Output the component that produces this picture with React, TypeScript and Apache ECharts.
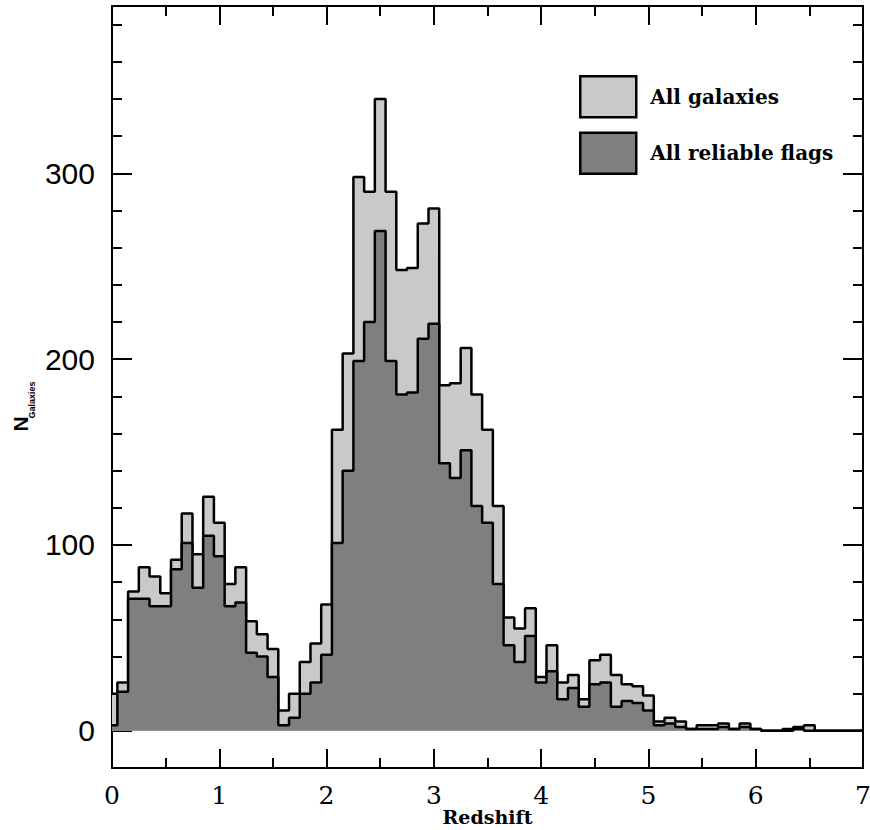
import React, { useEffect, useRef } from "react";
import * as echarts from "echarts";

// Bin centres (redshift), bin width 0.1
const redshift = [
  0.0, 0.1, 0.2, 0.3, 0.4, 0.5, 0.6, 0.7, 0.8, 0.9,
  1.0, 1.1, 1.2, 1.3, 1.4, 1.5, 1.6, 1.7, 1.8, 1.9,
  2.0, 2.1, 2.2, 2.3, 2.4, 2.5, 2.6, 2.7, 2.8, 2.9,
  3.0, 3.1, 3.2, 3.3, 3.4, 3.5, 3.6, 3.7, 3.8, 3.9,
  4.0, 4.1, 4.2, 4.3, 4.4, 4.5, 4.6, 4.7, 4.8, 4.9,
  5.0, 5.1, 5.2, 5.3, 5.4, 5.5, 5.6, 5.7, 5.8, 5.9,
  6.0, 6.1, 6.2, 6.3, 6.4, 6.5, 6.6, 6.7, 6.8, 6.9,
  7.0,
];

const allGalaxies = [
  20, 26, 75, 88, 83, 74, 92, 117, 95, 126,
  112, 79, 88, 59, 52, 44, 11, 20, 37, 47,
  68, 162, 203, 298, 290, 340, 290, 248, 249, 273,
  281, 186, 187, 206, 181, 162, 121, 61, 55, 66,
  29, 46, 26, 30, 17, 38, 41, 30, 25, 24,
  19, 5, 7, 5, 1, 3, 3, 4, 1, 4,
  1, 0, 0, 1, 2, 3, 0, 0, 0, 0,
  0,
];

const reliableFlags = [
  3, 21, 71, 71, 67, 67, 87, 101, 77, 105,
  94, 67, 69, 42, 40, 29, 3, 7, 20, 26,
  41, 101, 140, 199, 220, 269, 199, 181, 182, 211,
  219, 144, 136, 151, 121, 112, 79, 46, 37, 51,
  26, 32, 17, 23, 13, 25, 26, 13, 16, 15,
  11, 3, 4, 2, 1, 1, 1, 2, 1, 2,
  1, 0, 0, 0, 1, 0, 0, 0, 0, 0,
  0,
];

const yMajorTicks = [0, 100, 200, 300];
const yMinorTicks = [0, 20, 40, 60, 80, 100, 120, 140, 160, 180, 200, 220, 240, 260, 280, 300, 320, 340, 360, 380];

const LIGHT = "#c9c9c9";
const DARK = "#7f7f7f";

export default function App() {
  const ref = useRef<HTMLDivElement>(null);

  useEffect(() => {
    document.body.style.margin = "0";
    if (!ref.current) return;
    const chart = echarts.init(ref.current, undefined, { renderer: "svg" });

    const xBase = {
      type: "value" as const,
      min: 0,
      max: 7,
      interval: 1,
      axisLine: { show: true, onZero: false, lineStyle: { color: "#000", width: 2 } },
      axisTick: { show: true, inside: true, length: 19, lineStyle: { color: "#000", width: 2 } },
      minorTick: { show: true, splitNumber: 2, length: 10, lineStyle: { color: "#000", width: 2 } },
      splitLine: { show: false },
      minorSplitLine: { show: false },
    };

    const yMinor = (position: "left" | "right", labels: boolean) => ({
      type: "value" as const,
      position,
      min: -20,
      max: 390,
      axisLine: { show: true, onZero: false, lineStyle: { color: "#000", width: 2 } },
      axisTick: {
        show: true,
        inside: true,
        length: 10,
        customValues: yMinorTicks,
        lineStyle: { color: "#000", width: 2 },
      },
      axisLabel: labels
        ? {
            show: true,
            customValues: yMajorTicks,
            margin: 17,
            fontFamily: "Liberation Sans",
            fontSize: 30,
            color: "#000",
          }
        : { show: false },
      splitLine: { show: false },
    });

    const yMajor = (position: "left" | "right") => ({
      type: "value" as const,
      position,
      min: -20,
      max: 390,
      axisLine: { show: false, onZero: false },
      axisTick: {
        show: true,
        inside: true,
        length: 20,
        customValues: yMajorTicks,
        lineStyle: { color: "#000", width: 2 },
      },
      axisLabel: { show: false },
      splitLine: { show: false },
    });

    chart.setOption({
      animation: false,
      backgroundColor: "#fff",
      grid: {
        left: 112,
        right: 7,
        top: 6,
        bottom: 62,
        containLabel: false,
        outerBoundsMode: "none",
      },
      legend: {
        orient: "vertical",
        left: 579,
        top: 75,
        padding: 0,
        itemWidth: 56,
        itemHeight: 41,
        itemGap: 13,
        icon: "rect",
        selectedMode: false,
        itemStyle: { borderColor: "#000", borderWidth: 2.5 },
        textStyle: {
          fontFamily: "DejaVu Serif",
          fontWeight: "bold",
          fontSize: 20,
          color: "#000",
          padding: [0, 0, 0, 9],
        },
        data: [
          { name: "All galaxies", itemStyle: { color: LIGHT, borderColor: "#000", borderWidth: 2.5 } },
          { name: "All reliable flags", itemStyle: { color: DARK, borderColor: "#000", borderWidth: 2.5 } },
        ],
      },
      xAxis: [
        {
          ...xBase,
          position: "bottom",
          name: "Redshift",
          nameLocation: "middle",
          nameGap: 40,
          nameMoveOverlap: false,
          nameTextStyle: {
            fontFamily: "DejaVu Serif",
            fontWeight: "bold",
            fontSize: 19,
            lineHeight: 18,
            color: "#000",
          },
          axisLabel: {
            show: true,
            margin: 15,
            fontFamily: "DejaVu Serif",
            fontSize: 25,
            color: "#000",
          },
        },
        {
          ...xBase,
          position: "top",
          axisLabel: { show: false },
        },
      ],
      yAxis: [yMinor("left", true), yMajor("left"), yMinor("right", false), yMajor("right")],
      graphic: [
        {
          type: "text",
          x: 20,
          y: 424,
          rotation: Math.PI / 2,
          style: {
            text: "N",
            fontFamily: "Liberation Sans",
            fontWeight: "bold",
            fontSize: 21,
            fill: "#000",
            align: "center",
            verticalAlign: "middle",
          },
        },
        {
          type: "text",
          x: 31.5,
          y: 400,
          rotation: Math.PI / 2,
          style: {
            text: "Galaxies",
            fontFamily: "Liberation Sans",
            fontWeight: "bold",
            fontSize: 9,
            fill: "#000",
            align: "center",
            verticalAlign: "middle",
          },
        },
      ],
      series: [
        {
          name: "All galaxies",
          type: "line",
          step: "middle",
          xAxisIndex: 0,
          yAxisIndex: 0,
          showSymbol: false,
          symbol: "none",
          data: redshift.map((z, i) => [z, allGalaxies[i]]),
          lineStyle: { color: "#000", width: 2.5 },
          itemStyle: { color: LIGHT },
          areaStyle: { color: LIGHT, opacity: 1, origin: 0 },
          z: 2,
        },
        {
          name: "All reliable flags",
          type: "line",
          step: "middle",
          xAxisIndex: 0,
          yAxisIndex: 0,
          showSymbol: false,
          symbol: "none",
          data: redshift.map((z, i) => [z, reliableFlags[i]]),
          lineStyle: { color: "#000", width: 2.5 },
          itemStyle: { color: DARK },
          areaStyle: { color: DARK, opacity: 1, origin: 0 },
          z: 3,
        },
      ],
    });

    return () => chart.dispose();
  }, []);

  return <div ref={ref} style={{ width: 870, height: 830 }} />;
}
